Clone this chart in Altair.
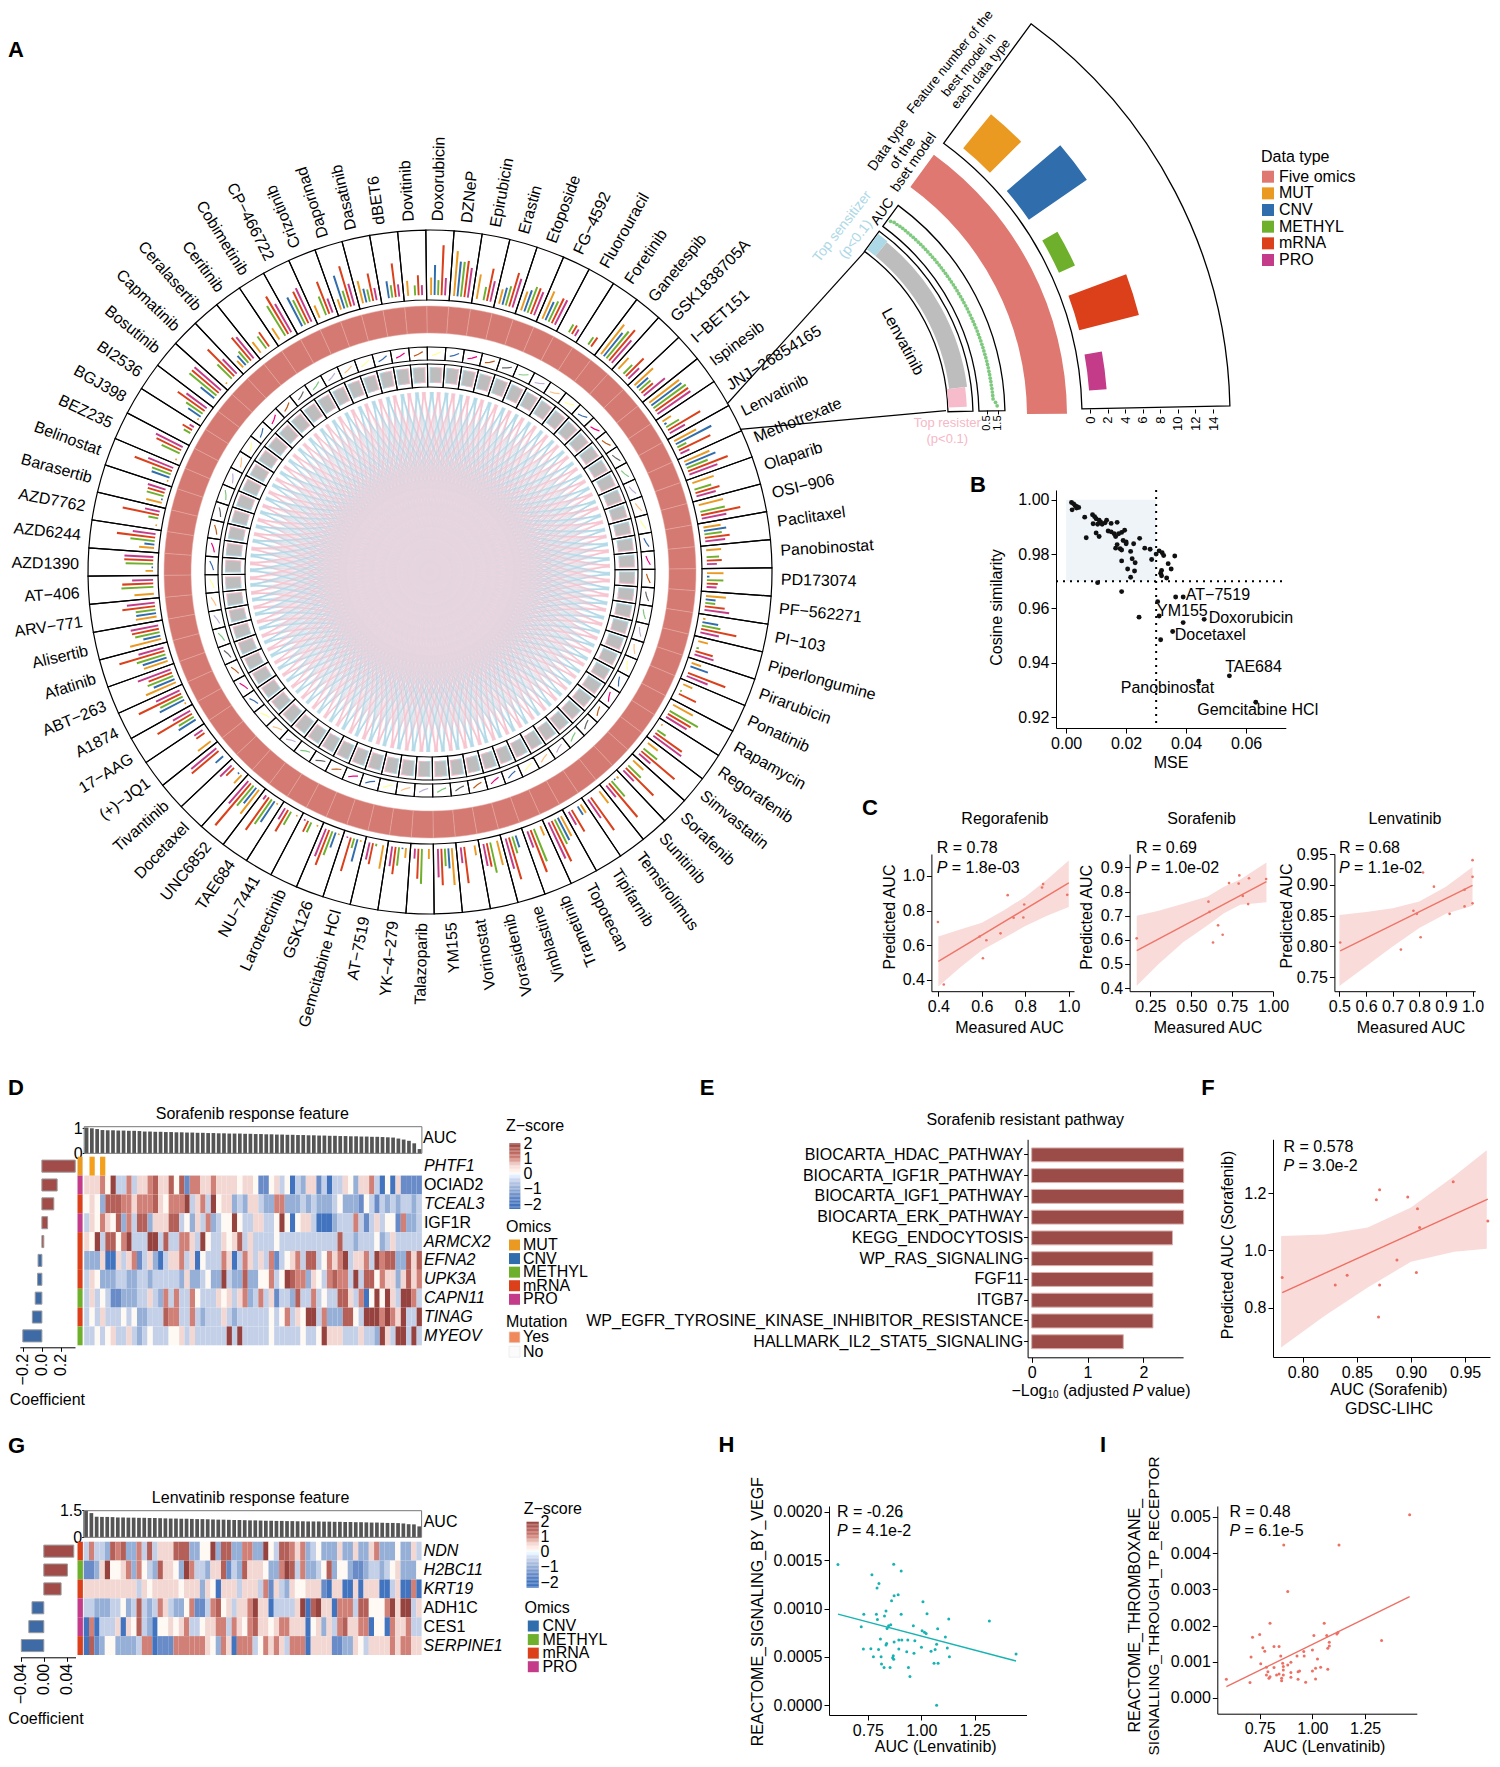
import math
import altair as alt
import pandas as pd

alt.data_transformers.disable_max_rows()
W, H = 1484, 1751
FONT = "Liberation Sans"
FS = 16

# ---------- A: circular panel ----------
drugs = ["Doxorubicin","DZNeP","Epirubicin","Erastin","Etoposide","FG−4592","Fluorouracil","Foretinib","Ganetespib",
 "GSK1838705A","I−BET151","Ispinesib","JNJ−26854165","Lenvatinib","Methotrexate","Olaparib","OSI−906","Paclitaxel",
 "Panobinostat","PD173074","PF−562271","PI−103","Piperlongumine","Pirarubicin","Ponatinib","Rapamycin","Regorafenib",
 "Simvastatin","Sorafenib","Sunitinib","Temsirolimus","Tipifarnib","Topotecan","Trametinib","Vinblastine","Vorasidenib",
 "Vorinostat","YM155","Talazoparib","YK−4−279","AT−7519","Gemcitabine HCl","GSK126","Larotrectinib","NU−7441","TAE684",
 "UNC6852","Docetaxel","Tivantinib","(+)−JQ1","17−AAG","A1874","ABT−263","Afatinib","Alisertib","ARV−771","AT−406",
 "AZD1390","AZD6244","AZD7762","Barasertib","Belinostat","BEZ235","BGJ398","BI2536","Bosutinib","Capmatinib",
 "Ceralasertib","Ceritinib","Cobimetinib","CP−466722","Crizotinib","Daporinad","Dasatinib","dBET6","Dovitinib"]
# feature number per drug: MUT, CNV, METHYL, mRNA, PRO
feature_counts = [
 [3.5,6,3,10,3.5],[9,7,7,7.3,6],[5,0,2.7,6.6,4.2],[3,3.5,4,7,6],[4,4.5,5.5,5.5,5],[6,4,4.5,5.5,5.5],[0,0,1.8,2,1.5],
 [0,0,1.8,2.2,0],[7.5,6,7,8,6],[3,0,2.5,5,3],[5,3,3,3,5.5],[7.5,7.5,8,8,8],[2,.5,3,7.5,3.5],[5,8,2,7,2],[5.5,6.5,4.5,8.5,6],
 [4.5,0,3.5,5,4],[5,0,5,8,5],[3.5,4.5,3.5,5,4],[3,0,2.5,3,2],[3.3,.5,3.3,2.2,2],[4,2,2,4,5],[.5,3.2,3.8,7.2,3.8],[2,0,.5,3.6,4],
 [2,3.7,0,8,4.5],[2,0,.3,3.8,0],[4.5,0,6.5,5.3,4.8],[.3,0,2,6.5,6.9],[2.5,0,3.5,8.7,3],[2.8,0,3.5,7.8,3],[.5,.3,4,8.8,3],
 [3,0,0,8,4.5],[2,2,0,5,3],[4.5,5,5.5,9,8],[2,0,7,9,3.5],[0,2.5,3.5,8.7,6.3],[5,0,6.2,4.8,4.5],[2,0,0,7.3,3.2],[7.4,4,3.5,7.3,5.7],
 [2,0,7,6,2],[2,.3,3.7,5.5,4],[4.8,0,.5,4.3,3.5],[.3,4.6,2,7,.3],[.3,3.2,5.1,7.5,5.9],[.3,0,2.2,2.4,.3],[.3,0,3,5,2.6],
 [.3,5,6,8,1],[6,4,5.2,11,5.9],[2.2,.3,0,2.2,3.2],[0,2,0,7,6.5],[3.2,0,0,2,2],[0,4,3.5,8,4],[.3,5.5,5,9.4,5.2],[6.5,4.5,5.5,5,7],
 [5,5,6,9.4,5.2],[6.4,3.5,5,5.5,5.6],[4.2,4,4,6.6,5.6],[3.9,0,6.4,6.2,4.2],[1.5,.3,5.5,5.8,5.8],[3,2,4.9,7.7,4.6],[.3,0,2,7.4,3],
 [3.2,.3,3.5,3.5,3.7],[.3,3.8,4,8,5.4],[.3,0,4,5.5,6],[0,0,1.5,2.2,1],[.3,3,4,6.6,5],[0,3.5,7,7,7],[.3,0,4,7.5,4],[1.8,2.5,3,6,5.5],
 [2.7,0,3,3.5,0],[2.7,0,7,8.7,6.5],[0,6.5,5.5,7,7.4],[2.7,0,4,6.9,3],[2.2,6.9,3.5,8.4,4.5],[4.6,2.8,2.5,5.6,2.5],[0,3.4,2.5,6.8,2.5],[3,0,2,4,2]]
omics = ["MUT","CNV","METHYL","mRNA","PRO"]
omic_col = {"Five omics":"#E07872","MUT":"#EA9A21","CNV":"#2F6DAC","METHYL":"#6EB02C","mRNA":"#DB401B","PRO":"#C43C89"}
lenv_feature_counts = [5,8,2,7,2]
accent = ["#7FC97F","#BEAED4","#FDC086","#FFFF99","#386CB0","#F0027F","#BF5B17","#666666"]
auc_track = [0.25,0.5,0.75]     # position along sector
auc_curve = [216.5,218,220.5]   # radial level of the sorted AUC curve
chord_offsets = [12,15,18,21,24,27,30,33,36,38]

# ---------- B ----------
b_mse = [.0018,.0025,.003,.0035,.0042,.002,.0035,.0062,.0088,.0095,.01,.011,.009,.0105,.0115,.012,.013,.0135,.015,.017,.01,.011,.0067,.014,.015,.016,.0165,.0175,.0185,.0195,.019,.02,.02,.0225,.0245,.017,.0165,.018,.0185,.0215,.0262,.028,.0285,.03,.031,.032,.0325,.0362,.034,.035,.0185,.022,.023,.0205,.0228,.0215,.0318,.0315,.0318,.0335,.0105,.0185,.0305,.0365,.039,.0243,.031,.039,.046,.0355,.0315,.0544,.0442,.0632]
b_cos = [.999,.9985,.9978,.9975,.9972,.9963,.997,.9936,.9945,.9938,.993,.9925,.9912,.991,.9918,.991,.9915,.9925,.9913,.9917,.9878,.9865,.986,.9885,.9882,.9875,.9865,.9875,.988,.9888,.985,.9845,.9838,.9838,.9858,.9835,.9822,.982,.9815,.981,.9822,.9818,.978,.98,.9812,.9805,.9795,.9793,.9765,.9745,.9775,.9783,.9768,.9745,.9738,.9715,.974,.973,.972,.9712,.9695,.9662,.9625,.9642,.9642,.9568,.9572,.9548,.956,.9515,.9485,.9352,.9332,.9255]
b_labels = ["AT−7519","YM155","Doxorubicin","Docetaxel","TAE684","Panobinostat","Gemcitabine HCl"]
b_lab_x = [.0399,.0303,.0475,.0362,.053,.0182,.0437]
b_lab_y = [.9651,.959,.9565,.9504,.9385,.9306,.9227]

# ---------- C ----------
c1_x=[.398,.425,.59,.605,.621,.686,.719,.746,.791,.795,.877,.882,.993]
c1_y=[.734,.372,.65,.524,.628,.668,.889,.758,.76,.835,.933,.953,.891]
c1_fit=[[.4,.506],[1.0,.96]]
c1_bx=[.4,.5,.6,.7,.8,.9,1.0]; c1_hi=[.65,.69,.73,.80,.88,.98,1.09]; c1_lo=[.36,.47,.57,.64,.71,.77,.82]
c2_x=[.166,.605,.612,.633,.664,.692,.731,.79,.794,.815,.848,.853,.958]
c2_y=[.606,.758,.716,.589,.66,.621,.835,.833,.867,.782,.748,.855,.852]
c2_fit=[[.166,.555],[.96,.841]]
c2_bx=[.166,.3,.45,.6,.7,.8,.96]; c2_hi=[.70,.72,.75,.78,.82,.85,.92]; c2_lo=[.41,.50,.59,.66,.71,.745,.756]
c3_x=[.503,.731,.778,.791,.805,.814,.855,.914,.97,.97,1.0,1.0,1.0]
c3_y=[.8065,.795,.858,.853,.815,.92,.897,.853,.892,.865,.94,.913,.87]
c3_fit=[[.503,.793],[1.0,.899]]
c3_bx=[.5,.6,.7,.8,.9,1.0]; c3_hi=[.851,.856,.862,.873,.897,.929]; c3_lo=[.736,.768,.80,.83,.853,.866]

# ---------- D ----------
d_genes=["PHTF1","OCIAD2","TCEAL3","IGF1R","ARMCX2","EFNA2","UPK3A","CAPN11","TINAG","MYEOV"]
d_plain=["OCIAD2","IGF1R"]
d_coef=[.35,.16,.125,.06,.02,-.04,-.045,-.07,-.10,-.2]
d_omic=["MUT","PRO","mRNA","PRO","mRNA","mRNA","mRNA","METHYL","mRNA","METHYL"]
d_mut_cols=[1,3]
d_auc=[1.03,1.0,.97,.93,.92,.92,.91,.91,.90,.90,.89,.87,.87,.86,.86,.85,.85,.84,.84,.83,.83,.82,.82,.81,.81,.80,.80,.79,.79,.79,.78,.78,.77,.77,.76,.76,.75,.75,.74,.74,.73,.73,.72,.72,.71,.71,.70,.70,.69,.69,.68,.68,.67,.67,.66,.66,.65,.64,.63,.59,.55,.50,.40,.17]
d_levels={
"OCIAD2":"5 5 5 6 4 8 3 3 6 3 5 5 6 7 5 5 7 4 7 1 6 6 5 5 6 5 5 5 5 4 5 5 4 1 1 4 5 3 4 0 3 2 5 5 1 3 0 3 3 5 4 2 5 5 6 3 0 4 0 5 1 1 1 1",
"TCEAL3":"4 5 4 2 7 7 7 6 6 5 6 6 6 7 5 4 6 6 6 8 3 5 6 3 8 4 5 5 2 3 2 5 5 3 2 2 6 6 2 2 2 3 2 3 2 2 2 3 4 2 2 2 1 4 3 1 3 2 3 2 3 3 2 3",
"IGF1R":"3 5 4 6 5 4 7 2 6 3 7 7 2 5 5 5 7 7 3 4 2 5 3 6 2 3 4 4 8 4 3 3 5 5 3 3 4 8 4 0 4 5 5 3 0 0 0 2 3 3 3 6 3 1 3 5 3 4 4 1 6 2 2 3",
"ARMCX2":"5 4 8 3 7 7 4 6 8 3 3 3 8 8 3 7 3 3 6 6 5 3 8 4 3 3 5 4 5 7 3 5 3 3 3 3 4 3 3 3 3 3 3 3 3 3 3 3 7 3 3 2 3 3 3 4 2 3 5 3 3 3 3 3",
"EFNA2":"2 2 2 5 0 0 5 3 5 6 1 3 5 2 0 3 5 5 6 3 5 0 4 3 3 3 6 5 0 3 6 5 3 5 3 6 1 3 4 5 6 3 7 7 3 4 6 5 6 8 3 5 5 6 3 8 6 7 7 2 2 7 5 7",
"UPK3A":"3 5 4 2 2 2 3 3 2 2 3 3 2 3 3 3 3 3 2 5 2 2 3 4 2 2 8 3 2 2 7 2 2 4 4 6 3 4 8 7 6 6 2 5 4 3 6 7 6 6 3 8 3 7 7 4 6 5 5 2 5 7 5 6",
"CAPN11":"3 5 3 4 3 1 1 2 2 2 3 3 5 3 2 6 3 6 3 3 6 4 3 3 3 5 4 5 3 5 6 2 3 6 3 5 1 3 3 2 7 3 3 6 3 4 3 3 7 7 5 3 6 0 4 8 4 8 5 3 8 8 6 3",
"TINAG":"3 4 3 5 3 3 3 4 3 4 2 2 3 3 3 7 6 6 3 3 6 3 2 3 3 3 5 3 2 3 3 3 3 3 3 4 3 4 6 3 5 4 8 8 3 6 2 2 2 7 7 4 3 8 8 8 6 8 6 5 8 3 3 8",
"MYEOV":"3 3 4 3 4 5 3 3 5 3 2 3 4 3 3 3 4 4 5 3 5 3 3 3 3 3 3 8 3 8 3 3 3 3 3 4 3 3 3 3 3 4 3 3 4 8 5 5 5 3 3 3 5 3 3 2 8 5 3 8 8 3 8 3"}

# ---------- E ----------
e_path=["BIOCARTA_HDAC_PATHWAY","BIOCARTA_IGF1R_PATHWAY","BIOCARTA_IGF1_PATHWAY","BIOCARTA_ERK_PATHWAY","KEGG_ENDOCYTOSIS","WP_RAS_SIGNALING","FGF11","ITGB7","WP_EGFR_TYROSINE_KINASE_INHIBITOR_RESISTANCE","HALLMARK_IL2_STAT5_SIGNALING"]
e_val=[2.72,2.72,2.72,2.72,2.52,2.17,2.17,2.17,2.17,1.64]

# ---------- F ----------
f_x=[.781,.83,.841,.868,.871,.871,.87,.887,.897,.905,.906,.908,.939,.971]
f_y=[.905,.879,.913,1.177,1.212,.879,.767,.966,1.186,.922,1.145,1.08,1.24,1.102]
f_fit=[[.781,.852],[.971,1.179]]
f_bx=[.78,.82,.86,.90,.94,.97]; f_hi=[1.05,1.055,1.08,1.15,1.26,1.35]; f_lo=[.66,.77,.87,.96,.995,1.005]

# ---------- G ----------
g_genes=["NDN","H2BC11","KRT19","ADH1C","CES1","SERPINE1"]
g_plain=["ADH1C","CES1"]
g_coef=[.052,.041,.03,-.0205,-.026,-.039]
g_omic=["mRNA","METHYL","mRNA","PRO","PRO","mRNA"]
g_auc=[1.46,1.33,1.13,1.12,1.12,1.11,1.09,1.09,1.08,1.08,1.07,1.07,1.06,1.06,1.05,1.04,1.03,1.03,1.02,1.02,1.01,1.0,1.0,.99,.98,.97,.97,.96,.95,.95,.94,.93,.93,.92,.91,.91,.90,.90,.89,.89,.88,.88,.87,.87,.87,.86,.86,.85,.85,.84,.84,.83,.83,.82,.81,.81,.80,.79,.79,.78,.76,.72,.71,.60]
g_levels={
"NDN":"3 6 3 3 2 7 6 7 2 2 6 3 7 3 5 5 5 7 7 7 2 2 4 4 8 2 7 7 2 2 6 6 2 2 8 4 3 7 7 6 5 6 2 3 4 2 2 2 5 2 2 5 2 2 5 6 2 2 2 4 2 2 5 3",
"H2BC11":"1 1 2 5 8 4 4 5 6 2 6 4 3 2 7 5 5 4 2 8 6 3 3 2 5 5 7 1 3 2 7 5 5 5 4 2 2 6 8 7 3 6 2 2 3 4 7 2 4 4 2 1 1 2 3 3 2 3 4 5 2 2 2 4",
"KRT19":"5 5 5 5 5 5 5 5 5 5 3 5 4 5 5 5 5 5 4 5 5 5 2 5 4 0 5 5 5 3 5 5 5 3 6 1 5 3 2 5 4 4 5 5 5 1 0 5 5 0 0 5 0 5 5 5 0 0 3 5 0 0 6 0",
"ADH1C":"3 3 2 2 2 3 3 4 2 3 7 3 2 3 6 5 3 2 2 4 6 1 1 3 6 7 4 5 3 5 5 6 8 5 5 0 3 3 3 3 5 8 0 7 8 5 5 0 6 6 6 3 7 7 4 4 4 6 8 5 8 8 3 5",
"CES1":"0 6 0 3 3 3 5 0 5 4 7 3 2 0 4 4 5 4 5 6 3 3 4 5 5 6 6 3 6 5 4 6 7 5 5 4 5 6 6 5 5 5 0 4 5 2 5 3 6 7 5 5 6 6 0 4 4 0 6 5 5 6 3 3",
"SERPINE1":"0 7 1 2 4 4 2 2 2 2 3 6 6 0 1 1 1 6 6 6 6 6 6 5 4 2 6 5 0 6 6 6 3 4 6 5 6 5 3 6 6 6 0 5 5 5 5 1 1 2 2 5 4 3 5 5 5 5 6 5 6 6 5 5"}

# ---------- H / I ----------
h_x=[.61,.769,.802,.793,.871,.906,.906,.861,.873,.892,1.008,.835,.79,.731,.795,.828,.906,1.027,1.129,.719,.857,.847,.84,.963,1.004,1.015,1.077,1.319,.809,1.113,.838,.835,.873,.895,.909,.937,.97,1.023,1.001,1.072,.729,.764,.8,.895,.932,.966,1.046,1.065,1.122,.776,.812,.869,.866,.871,1.132,.814,.826,.854,.94,.947,1.06,1.079,1.072,1.444]
h_y=[.001456,.001349,.00126,.001212,.001459,.001387,.001955,.001081,.001132,.001143,.00107,.000974,.00094,.00094,.000888,.000922,.00094,.000947,.000891,.000812,.000833,.000823,.000795,.000823,.000771,.000754,.000792,.000871,.000685,.000706,.00064,.000623,.000654,.000675,.000675,.000675,.000668,.000743,.000599,.00063,.000582,.000585,.000578,.000582,.000554,.000537,.000558,.000578,.000592,.000503,.000503,.000513,.000492,.000475,.000503,.000427,.000392,.000392,.000392,.000299,.000434,.000434,0.0,.00053]
h_fit=[[.61,.000943],[1.444,.000458]]
i_x=[.592,.704,.709,.716,.75,.755,.765,.774,.799,.782,.789,.782,.794,.799,.818,.818,.83,.842,.842,.85,.864,.859,.862,.862,.862,.854,.854,.883,.883,.898,.898,.898,.927,.932,.939,.932,.959,.961,.968,1.0,1.0,1.007,1.015,1.015,1.024,1.039,1.056,1.068,1.073,1.073,1.08,1.08,1.116,1.121,1.126,1.328,1.461]
i_y=[.000516,.000424,.001133,.001676,.00175,.000948,.00139,.001289,.002063,.000847,.000727,.000635,.000543,.000589,.001418,.000838,.000635,.001418,.000663,.00116,.004226,.000958,.000866,.000773,.000635,.000543,.000479,.002937,.000912,.000985,.0007,.000571,.00116,.000727,.000746,.000516,.00128,.00116,.000433,.001326,.000746,.001722,.00082,.000525,.001077,.000847,.002063,.001722,.000792,.001372,.001538,.001436,.001768,.001805,.004226,.001584,.005055]
i_fit=[[.592,.000313],[1.461,.0028]]

# ============ helpers ============
L = []
EMPTY = alt.InlineData(values=[{}])
PX = alt.Scale(domain=[0,W], range=[0,W], nice=False, zero=False)
PY = alt.Scale(domain=[0,H], range=[0,H], nice=False, zero=False)
TH = alt.Scale(type="linear", domain=[0,360], range=[0,2*math.pi], nice=False, zero=False)
RR = alt.Scale(type="linear", domain=[0,600], range=[0,600], nice=False, zero=False)

def T(s, X, Y, size=FS, angle=0, align="center", baseline="middle", color="black", style="normal", weight="normal"):
    L.append(alt.Chart(EMPTY).mark_text(text=s, fontSize=size, angle=angle % 360, align=align, baseline=baseline,
             color=color, font=FONT, fontStyle=style, fontWeight=weight).encode(x=alt.value(X-8), y=alt.value(Y-8)))

def sx(d, a, b):
    return alt.Scale(domain=d, range=[a-8, b-8], nice=False, zero=False)

def xax(Y, vals, fmt, **k):
    a = dict(orient="bottom", offset=Y-8-H, values=vals, format=fmt, title=None, grid=False, tickSize=5, labelPadding=2,
             labelFontSize=FS, labelFont=FONT, labelColor="black", tickColor="black", domainColor="black", labelOverlap=False, labelFlush=False)
    a.update(k); return alt.Axis(**a)

def yax(X, vals, fmt, **k):
    a = dict(orient="left", offset=-(X-8), values=vals, format=fmt, title=None, grid=False, tickSize=5, labelPadding=2,
             labelFontSize=FS, labelFont=FONT, labelColor="black", tickColor="black", domainColor="black", labelOverlap=False, labelFlush=False)
    a.update(k); return alt.Axis(**a)

def arcs(rows, cx, cy, color=None, rscale=RR, **mark):
    df = pd.DataFrame(rows)
    enc = dict(x=alt.value(cx-8), y=alt.value(cy-8),
               theta=alt.Theta("t0:Q", scale=TH, stack=False), theta2=alt.Theta2("t1:Q"),
               radius=alt.Radius("r0:Q", scale=rscale), radius2=alt.Radius2("r1:Q"))
    if color is not None:
        enc["color"] = color
    L.append(alt.Chart(df).mark_arc(**mark).encode(**enc))

def swatches(title, items, colors, title_x, title_y, sw_x, text_x, y0, yn, size=121, stroke=False):
    T(title, title_x, title_y, align="left")
    ys = alt.Scale(type="point", domain=items, range=[y0-8, yn-8], padding=0)
    mk = dict(stroke="#E8E8E8", strokeWidth=.7) if stroke else dict(strokeWidth=0)
    df = pd.DataFrame(dict(it=items, c=colors))
    L.append(alt.Chart(df).mark_square(size=size, opacity=1, **mk).encode(
        x=alt.value(sw_x-8), y=alt.Y("it:N", scale=ys, axis=None), fill=alt.Fill("c:N", scale=None, legend=None)))
    L.append(alt.Chart(df).mark_text(align="left", baseline="middle", fontSize=FS, font=FONT, color="black").encode(
        x=alt.value(text_x-8), y=alt.Y("it:N", scale=ys, axis=None), text="it:N"))

Z_DOM = [-2,-1.5,-1,-.5,0,.5,1,1.5,2]
Z_RNG = ["#4173BE","#698CC8","#96AFD7","#C3D0E8","#FFFFFF","#F2D7D2","#D08076","#B45F58","#96423E"]
Z_SCALE = alt.Scale(domain=Z_DOM, range=Z_RNG)

def zbar(title_x, title_y, x0, x1, top, bottom, lab_top, lab_bot, text_x):
    T("Z−score", title_x, title_y, align="left")
    ys = sx([-2,2], lab_bot, lab_top)
    per = (lab_bot-lab_top)/4
    low = 2-(bottom-top)/per
    n = 48
    edges = [low+(2-low)*k/n for k in range(n+1)]
    df = pd.DataFrame(dict(a=edges[:-1], b=edges[1:], z=[max(-2,e) for e in edges[:-1]]))
    L.append(alt.Chart(df).mark_rect(strokeWidth=0).encode(
        x=alt.value(x0-8), x2=alt.value(x1-8),
        y=alt.Y("a:Q", scale=ys, axis=alt.Axis(orient="right", offset=text_x-8-W, values=[-2,-1,0,1,2], format="d", title=None, grid=False, domain=False, ticks=False,
             labelPadding=0, labelFontSize=FS, labelFont=FONT, labelColor="black", labelOverlap=False, labelFlush=False, labelBound=False)),
        y2="b:Q", color=alt.Color("z:Q", scale=Z_SCALE, legend=None)))

# ============ A ring ============
CX, CY = 430, 572
N = len(drugs)
STEP = 360/N
START = -0.7
def c_of(i): return START + (i+0.5)*STEP
def polar(cx, cy, r, a):
    return cx-8+r*math.sin(math.radians(a)), cy-8-r*math.cos(math.radians(a))
sector = lambda r0, r1: [dict(t0=START+i*STEP, t1=START+(i+1)*STEP, r0=r0, r1=r1) for i in range(N)]

# chords between sectors
R_CH = 180
rows=[]; lid=0
for i in range(N):
    for n_off, off in enumerate(chord_offsets):
        for slot, col in ((-1.1,"#A8D5E6"),(1.1,"#F5BCCB")):
            jit = 0.12*(n_off-4.5)
            a = c_of(i)+slot+jit; b = c_of((i+off) % N)+slot-jit
            pa = polar(CX,CY,R_CH,a); pb = polar(CX,CY,R_CH,b)
            ox, oy = CX-8, CY-8
            pc = (ox+0.18*(pa[0]+pb[0]-2*ox), oy+0.18*(pa[1]+pb[1]-2*oy))
            for s,p in enumerate((pa,pc,pb)):
                rows.append(dict(id=lid,s=s,x=p[0],y=p[1],c=col))
            lid+=1
L.append(alt.Chart(pd.DataFrame(rows)).mark_line(interpolate="basis", strokeWidth=0.85, opacity=0.36).encode(
    x=alt.X("x:Q", scale=PX, axis=None), y=alt.Y("y:Q", scale=PY, axis=None), detail="id:N", order="s:Q",
    color=alt.Color("c:N", scale=None, legend=None)))
# dense centre of the links
arcs([dict(t0=0,t1=360,r0=0,r1=r) for r in (116,108,100,92,84)], CX, CY, fill="#E8D8DF", opacity=.32)

# grey AUC track
arcs(sector(185,208), CX, CY, filled=False, stroke="black", strokeWidth=1.1)
arcs([dict(t0=c_of(i)-1.8,t1=c_of(i)+0.4,r0=189,r1=205) for i in range(N)], CX, CY, fill="#ADD8E6")
arcs([dict(t0=c_of(i)-0.4,t1=c_of(i)+1.8,r0=189,r1=205) for i in range(N)], CX, CY, fill="#F6BCCB")
arcs([dict(t0=c_of(i)-1.5,t1=c_of(i)+1.5,r0=190,r1=204) for i in range(N)], CX, CY, fill="#BDBDBD")
# AUC curves
arcs(sector(212,225), CX, CY, filled=False, stroke="black", strokeWidth=1.1)
rows=[]
for i in range(N):
    for f, r in zip(auc_track, auc_curve):
        rows.append(dict(d=i, th=START+(i+f)*STEP, r=r, c=accent[(i+3)%8]))
L.append(alt.Chart(pd.DataFrame(rows)).transform_calculate(
    px=f"{CX-8}+datum.r*sin(datum.th*PI/180)", py=f"{CY-8}-datum.r*cos(datum.th*PI/180)"
).mark_line(strokeWidth=1.2).encode(x=alt.X("px:Q", scale=PX, axis=None), y=alt.Y("py:Q", scale=PY, axis=None),
    detail="d:N", order="th:Q", color=alt.Color("c:N", scale=None, legend=None)))
# red ring
arcs(sector(239,266), CX, CY, fill="#D47A72", stroke="#E6A9A3", strokeWidth=0.5)
# outer track + bars
arcs(sector(272,342), CX, CY, filled=False, stroke="black", strokeWidth=1.2)
rows=[]
for i, vals in enumerate(feature_counts):
    for j, v in enumerate(vals):
        if v > 0:
            c = c_of(i)+(j-2)*0.72
            rows.append(dict(t0=c-0.19, t1=c+0.19, r0=277, r1=277+5*v, om=omics[j]))
arcs(rows, CX, CY, color=alt.Color("om:N", scale=alt.Scale(domain=omics, range=[omic_col[o] for o in omics]), legend=None))
# drug labels
lab_r = 351
right_idx = set(range(33,71))
rowsL = [dict(c=c_of(i)-0.4, r=lab_r, name=drugs[i], rot=c_of(i)-0.4-90) for i in range(N) if i not in right_idx]
rowsR = [dict(c=c_of(i)-0.4, r=lab_r, name=drugs[i], rot=c_of(i)-0.4+90) for i in range(N) if i in right_idx]
for rows, al in [(rowsL,"left"),(rowsR,"right")]:
    L.append(alt.Chart(pd.DataFrame(rows)).mark_text(align=al, baseline="middle", fontSize=FS, font=FONT, color="black").encode(
        x=alt.value(CX-8), y=alt.value(CY-8), theta=alt.Theta("c:Q", scale=TH, stack=False),
        radius=alt.Radius("r:Q", scale=RR), text="name:N", angle=alt.Angle("rot:Q", scale=None)))

# ============ A fan ============
FX, FY = 744, 416
A0, A1 = 36.2, 88.8
L.append(alt.Chart(pd.DataFrame([
    dict(x=727-8,y=404-8,x2=864.7-8,y2=251.7-8), dict(x=739.8-8,y=429.4-8,x2=946-8,y2=410.7-8)])).mark_rule(color="black", strokeWidth=1.2).encode(
    x=alt.X("x:Q", scale=PX, axis=None), y=alt.Y("y:Q", scale=PY, axis=None), x2="x2:Q", y2="y2:Q"))
arcs([dict(t0=A0,t1=A1,r0=204,r1=229)], FX, FY, filled=False, stroke="black", strokeWidth=1.3)
arcs([dict(t0=36.4,t1=39.4,r0=207,r1=226)], FX, FY, fill="#ADD8E6")
arcs([dict(t0=39.4,t1=82.5,r0=207,r1=225)], FX, FY, fill="#BDBDBD")
arcs([dict(t0=82.5,t1=87.6,r0=204.5,r1=223)], FX, FY, fill="#F6BCCB")
arcs([dict(t0=A0,t1=A1,r0=235,r1=261)], FX, FY, filled=False, stroke="black", strokeWidth=1.3)
sorted_auc = sorted(g_auc)
dots = pd.DataFrame(dict(auc=sorted_auc, th=[37+(87.7-37)*k/(len(sorted_auc)-1) for k in range(len(sorted_auc))]))
L.append(alt.Chart(dots).transform_calculate(
    px=f"{FX-8}+(237+11.2*datum.auc)*sin(datum.th*PI/180)", py=f"{FY-8}-(237+11.2*datum.auc)*cos(datum.th*PI/180)"
).mark_circle(color="#7FC97F", size=14, opacity=1).encode(x=alt.X("px:Q", scale=PX, axis=None), y=alt.Y("py:Q", scale=PY, axis=None)))
L.append(alt.Chart(pd.DataFrame(dict(v=[.5,1.5]))).mark_point(opacity=0).encode(
    x=alt.X("v:Q", scale=sx([.5,1.5],986.6,997.8), axis=xax(410,[.5,1.5],".1f",labelAngle=270,labelFontSize=11,domain=False,tickSize=4,labelPadding=1)),
    y=alt.value(0)))
all_types = ["Five omics"]+omics
arcs([dict(t0=36,t1=89.6,r0=283,r1=323)], FX, FY, fill=omic_col["Five omics"])
swatches("Data type", all_types, [omic_col[o] for o in all_types], 1261, 157, 1268, 1279, 176.7, 260, size=144)
arcs([dict(t0=A0,t1=A1,r0=338,r1=486)], FX, FY, filled=False, stroke="black", strokeWidth=1.3)
FEAT = alt.Scale(type="linear", domain=[0,14], range=[346,469.2], nice=False, zero=False)
fan_rows=[dict(t0=39.3+10.12*k, t1=45.3+10.12*k, r0=0, r1=lenv_feature_counts[k], om=omics[k]) for k in range(5)]
arcs(fan_rows, FX, FY, rscale=FEAT, color=alt.Color("om:N", scale=alt.Scale(domain=omics, range=[omic_col[o] for o in omics]), legend=None))
L.append(alt.Chart(pd.DataFrame(dict(v=[0,14]))).mark_point(opacity=0).encode(
    x=alt.X("v:Q", scale=sx([0,14],1090.2,1213), axis=xax(409,list(range(0,15,2)),"d",labelAngle=270,labelFontSize=13,domain=False,tickSize=4,labelPadding=3)),
    y=alt.value(0)))
T("Feature number of the",950,62,13,309); T("best model in",968.8,65,13,309); T("each data type",980.8,74,13,309)
T("Data type",888.4,145,14,305); T("of the",902.7,153.3,14,305); T("bset model",913.8,162.3,14,305)
T("AUC",882.6,211.7,14,305)
T("Top sensitizer",842.4,226.7,14,308,color="#ADD8E6"); T("(p<0.1)",855.8,239.3,14,308,color="#ADD8E6")
T("Top resister",947.3,423.3,13,color="#F6B8C6"); T("(p<0.1)",947.3,439.3,13,color="#F6B8C6")
T("Lenvatinib",902.7,341.7,16,62)

# ============ scatter helper ============
def scatter(xs, ys, fit, X, Y, size, color, band=None, bandc="#F9DCD9", lw=1.4, xlab=None, ylab=None):
    if band:
        bx, hi, lo = band
        L.append(alt.Chart(pd.DataFrame(dict(x=bx,hi=hi,lo=lo))).mark_area(color=bandc, opacity=1).encode(
            x=alt.X("x:Q", scale=X, axis=None), y=alt.Y("lo:Q", scale=Y, axis=None), y2="hi:Q"))
    L.append(alt.Chart(pd.DataFrame(dict(x=[p[0] for p in fit],y=[p[1] for p in fit]))).mark_line(color=color, strokeWidth=lw).encode(
        x=alt.X("x:Q", scale=X, axis=xlab), y=alt.Y("y:Q", scale=Y, axis=ylab)))
    L.append(alt.Chart(pd.DataFrame(dict(x=xs,y=ys))).mark_circle(color=color, size=size, opacity=1).encode(
        x=alt.X("x:Q", scale=X, axis=None), y=alt.Y("y:Q", scale=Y, axis=None)))

def rp(R, P, X, Y1, Y2):
    T(R, X, Y1, align="left")
    T("P", X, Y2, align="left", style="italic")
    T(P, X+15, Y2, align="left")

# ============ B ============
bx = sx([-.00337,.0732],1056,1285.8); by = sx([.916,1.0036],728,490)
L.append(alt.Chart(pd.DataFrame(dict(x=[0],x2=[.03],y=[.97],y2=[1.0]))).mark_rect(color="#EEF4F8").encode(
    x=alt.X("x:Q", scale=bx, axis=xax(728,[0,.02,.04,.06],".2f")), x2="x2:Q",
    y=alt.Y("y:Q", scale=by, axis=yax(1056,[.92,.94,.96,.98,1.0],".2f")), y2="y2:Q"))
L.append(alt.Chart(pd.DataFrame(dict(x=[.03]))).mark_rule(color="black", strokeDash=[2,5], strokeWidth=2).encode(
    x=alt.X("x:Q", scale=bx, axis=None), y=alt.value(490-8), y2=alt.value(728-8)))
L.append(alt.Chart(pd.DataFrame(dict(y=[.97]))).mark_rule(color="black", strokeDash=[2,5], strokeWidth=2).encode(
    y=alt.Y("y:Q", scale=by, axis=None), x=alt.value(1056-8), x2=alt.value(1286-8)))
L.append(alt.Chart(pd.DataFrame(dict(x=b_mse,y=b_cos))).mark_circle(color="#111111", size=24, opacity=1).encode(
    x=alt.X("x:Q", scale=bx, axis=None), y=alt.Y("y:Q", scale=by, axis=None)))
L.append(alt.Chart(pd.DataFrame(dict(x=b_lab_x,y=b_lab_y,t=b_labels))).mark_text(align="left", fontSize=FS, font=FONT, color="black").encode(
    x=alt.X("x:Q", scale=bx, axis=None), y=alt.Y("y:Q", scale=by, axis=None), text="t:N"))
T("MSE",1171,762.5); T("Cosine similarity",997,607.5,angle=270)

# ============ C ============
CR = "#EE7468"
scatter(c1_x,c1_y,c1_fit, sx([.368,1.024],931.4,1074), sx([.3335,1.127],991.2,854), 7, CR, (c1_bx,c1_hi,c1_lo),
        xlab=xax(991.2,[.4,.6,.8,1.0],".1f"), ylab=yax(931.4,[.4,.6,.8,1.0],".1f"))
scatter(c2_x,c2_y,c2_fit, sx([.1225,1.0],1129.6,1273), sx([.387,.9557],991.2,854), 7, CR, (c2_bx,c2_hi,c2_lo),
        xlab=xax(991.2,[.25,.5,.75,1.0],".2f"), ylab=yax(1129.6,[.4,.5,.6,.7,.8,.9],".1f"))
scatter(c3_x,c3_y,c3_fit, sx([.4812,1.01],1334.4,1475.2), sx([.7275,.95],991.2,854), 7, CR, (c3_bx,c3_hi,c3_lo),
        xlab=xax(991.2,[.5,.6,.7,.8,.9,1.0],".1f"), ylab=yax(1334.4,[.75,.8,.85,.9,.95],".2f"))
T("Regorafenib",1004.9,818.6); T("Sorafenib",1201.6,818.6); T("Lenvatinib",1405,818.6)
for xc in (1009.5,1208,1411):
    T("Measured AUC",xc,1027.5)
T("Predicted AUC",890,917,angle=270); T("Predicted AUC",1086.8,917.3,angle=270); T("Predicted AUC",1286.5,916,angle=270)
rp("R = 0.78","= 1.8e-03",936.7,848.4,867.6); rp("R = 0.69","= 1.0e-02",1136,848.4,867.6); rp("R = 0.68","= 1.1e-02",1339,848.4,867.6)

# ============ heat helpers ============
def heatmap(levels, cols):
    rows=[]
    for g,s in levels.items():
        for c,d in enumerate(s.split()[:cols]):
            rows.append(dict(col=c,gene=g,z=(int(d)-4)/2))
    return rows

def heat_panel(levels, genes, plain, coefs, gomic, auc, x0,x1,y0,y1, barY0,barY1,auc_dom, auc_vals, coef_dom, cx0,cx1, cY, coef_vals, coef_fmt,
               side0, side1, boxtop):
    n=len(auc)
    xs=alt.Scale(domain=list(range(n)), range=[x0-8,x1-8], paddingInner=0, paddingOuter=0, round=False)
    ys=alt.Scale(domain=genes, range=[y0-8,y1-8], paddingInner=0, paddingOuter=0, round=False)
    L.append(alt.Chart(pd.DataFrame(heatmap(levels,n))).mark_rect(strokeWidth=0).encode(
        x=alt.X("col:O", scale=xs, axis=None), y=alt.Y("gene:N", scale=ys, axis=None),
        color=alt.Color("z:Q", scale=Z_SCALE, legend=None)))
    L.append(alt.Chart(pd.DataFrame(dict(gene=genes,om=gomic))).mark_rect().encode(
        x=alt.value(side0-8), x2=alt.value(side1-8), y=alt.Y("gene:N", scale=ys, axis=None),
        color=alt.Color("om:N", scale=alt.Scale(domain=omics, range=[omic_col[o] for o in omics]), legend=None)))
    ysb=alt.Scale(domain=genes, range=[y0-8,y1-8], paddingInner=.36, paddingOuter=.18, round=False)
    L.append(alt.Chart(pd.DataFrame(dict(gene=genes,v=coefs,z=[0]*len(genes),c=["#A14C48" if v>0 else "#3E6AA6" for v in coefs]))).mark_bar(stroke="#9a9a9a", strokeWidth=1).encode(
        x=alt.X("v:Q", scale=sx(coef_dom,cx0,cx1), axis=xax(cY,coef_vals,coef_fmt,labelAngle=270,tickSize=4)),
        x2="z:Q", y=alt.Y("gene:N", scale=ysb, axis=None), color=alt.Color("c:N", scale=None, legend=None)))
    xb=alt.Scale(domain=list(range(n)), range=[x0-8,x1-8], paddingInner=.3, paddingOuter=.1, round=False)
    L.append(alt.Chart(pd.DataFrame(dict(col=list(range(n)),v=auc,z=[0]*n))).mark_bar(color="#555555", strokeWidth=0).encode(
        x=alt.X("col:O", scale=xb, axis=None),
        y=alt.Y("v:Q", scale=sx(auc_dom,barY0,barY1), axis=yax(x0,auc_vals,".2~g",domain=False,tickSize=2,labelPadding=0,labelBaseline="middle")),
        y2="z:Q"))
    L.append(alt.Chart(EMPTY).mark_rect(fillOpacity=0, stroke="#777777", strokeWidth=1).encode(
        x=alt.value(x0-8), x2=alt.value(x1-8), y=alt.value(boxtop-8), y2=alt.value(barY0-8)))
    for names, st in ([g for g in genes if g in plain],"normal"),([g for g in genes if g not in plain],"italic"):
        L.append(alt.Chart(pd.DataFrame(dict(gene=names))).mark_text(align="left", fontSize=FS, font=FONT, fontStyle=st, color="black").encode(
            x=alt.value(x1+2-8), y=alt.Y("gene:N", scale=ys, axis=None), text="gene:N"))

heat_panel(d_levels,d_genes,d_plain,d_coef,d_omic,d_auc,84.2,421.9,1156.7,1345.3,1153.3,1126.7,[0,1.064],[0,1],
           [-.2316,.3474],19.8,75,1347.3,[-.2,0,.2],".1f",77.5,82.6,1126.7)
zbar(506,1126.3,509.3,520.4,1143.3,1209,1143.3,1204,523)
swatches("Omics",omics,[omic_col[o] for o in omics],506,1226.7,514.5,523,1245,1299.3)
swatches("Mutation",["Yes","No"],["#F0895C","#FBFBFB"],506,1321.7,514.5,523,1337.3,1351.7,stroke=True)
xs_d=alt.Scale(domain=list(range(64)), range=[84.2-8,421.9-8], paddingInner=0, paddingOuter=0, round=False)
ys_d=alt.Scale(domain=d_genes, range=[1156.7-8,1345.3-8], paddingInner=0, paddingOuter=0, round=False)
L.append(alt.Chart(pd.DataFrame(dict(col=d_mut_cols,gene=["PHTF1"]*len(d_mut_cols)))).mark_rect(color="#F5A01C").encode(
    x=alt.X("col:O", scale=xs_d, axis=None), y=alt.Y("gene:N", scale=ys_d, axis=None)))
T("Sorafenib response feature",252.3,1114); T("AUC",423,1138.3,align="left"); T("Coefficient",47.4,1400)
heat_panel(g_levels,g_genes,g_plain,g_coef,g_omic,g_auc,83.7,421.6,1541.7,1655,1537.3,1510,[0,1.5],[0,1.5],
           [-.0406,.055],20.4,75.5,1657.3,[-.04,0,.04],".2f",77.5,82.9,1510.7)
zbar(523.7,1509,526.5,538.8,1520.7,1586.7,1521.7,1582,540)
swatches("Omics",omics[1:],[omic_col[o] for o in omics[1:]],524.5,1607.7,533.3,542.4,1626,1666.7)
T("Lenvatinib response feature",250.6,1498); T("AUC",423.7,1522,align="left"); T("Coefficient",46,1718.7)

# ============ E ============
ex = sx([-.073,2.71],1027.6,1183.1)
ey = alt.Scale(domain=e_path, range=[1139.3-8,1357.3-8], paddingInner=.33, paddingOuter=.415, round=False)
L.append(alt.Chart(pd.DataFrame(dict(p=e_path,v=e_val,z=[0]*len(e_val)))).mark_bar(color="#9B4C48", stroke="#D9B0AD", strokeWidth=1).encode(
    x=alt.X("v:Q", scale=ex, axis=xax(1357.3,[0,1,2],"d")), x2="z:Q",
    y=alt.Y("p:N", scale=ey, axis=alt.Axis(orient="left", offset=-(1027.6-8), title=None, grid=False, tickSize=4, labelPadding=1,
        labelFontSize=FS, labelFont=FONT, labelColor="black", tickColor="black", domainColor="black", labelLimit=500, labelOverlap=False))))
T("Sorafenib resistant pathway",1025.3,1120)
T("−Log",1011.4,1390.7,align="left"); T("10",1047.5,1395,size=10,align="left")
T("(adjusted",1063,1390.7,align="left"); T("P",1132.6,1390.7,align="left",style="italic"); T("value)",1147,1390.7,align="left")

# ============ F ============
scatter(f_x,f_y,f_fit, sx([.7725,.973],1273,1490), sx([.627,1.388],1357,1139.3), 9, "#EE6F64", (f_bx,f_hi,f_lo),
        xlab=xax(1357,[.8,.85,.9,.95],".2f"), ylab=yax(1273,[.8,1.0,1.2],".1f"))
rp("R = 0.578","= 3.0e-2",1283.5,1146.7,1166)
T("Predicted AUC (Sorafenib)",1228.4,1245,angle=270); T("AUC (Sorafenib)",1389,1390); T("GDSC-LIHC",1389,1409)

# ============ H ============
scatter(h_x,h_y,h_fit, sx([.568,1.493],829,1026.5), sx([-.0001,.00206],1715,1506), 9, "#17B3B3",
        xlab=xax(1715,[.75,1.0,1.25,1.5],".2f"), ylab=yax(829,[0,.0005,.001,.0015,.002],".4f"))
rp("R = -0.26","= 4.1e-2",837,1511.7,1531)
T("REACTOME_SIGNALING_BY_VEGF",757.7,1611.7,angle=270); T("AUC (Lenvatinib)",935.7,1746.7)

# ============ I ============
scatter(i_x,i_y,i_fit, sx([.549,1.495],1217.3,1416.8), sx([-.000434,.0053],1713.7,1506), 9, "#EE6F64",
        xlab=xax(1713.7,[.75,1.0,1.25,1.5],".2f"), ylab=yax(1217.3,[0,.001,.002,.003,.004,.005],".3f"))
rp("R = 0.48","= 6.1e-5",1229.6,1511.7,1531)
T("REACTOME_THROMBOXANE_",1134.7,1615.7,angle=270); T("SIGNALLING_THROUGH_TP_RECEPTOR",1154,1606,15.3,270)
T("AUC (Lenvatinib)",1324.5,1746.7)

# ============ panel letters ============
for s,x,y,al in [("A",8,50,"left"),("B",978,484.5,"center"),("C",870,807.6,"center"),("D",8,1088,"left"),("E",707,1088,"center"),
                 ("F",1208,1088,"center"),("G",8,1446,"left"),("H",726.5,1445,"center"),("I",1103,1445,"center")]:
    T(s,x,y,22,align=al,weight="bold")

chart = alt.layer(*L).resolve_scale(x="independent", y="independent", color="independent", fill="independent", theta="independent", radius="independent").properties(
    width=W, height=H, padding=0, background="white", autosize=alt.AutoSizeParams(type="none", contains="padding")
).configure_view(strokeWidth=0)
chart.save("out.html", embed_options={"renderer": "svg", "actions": False})
